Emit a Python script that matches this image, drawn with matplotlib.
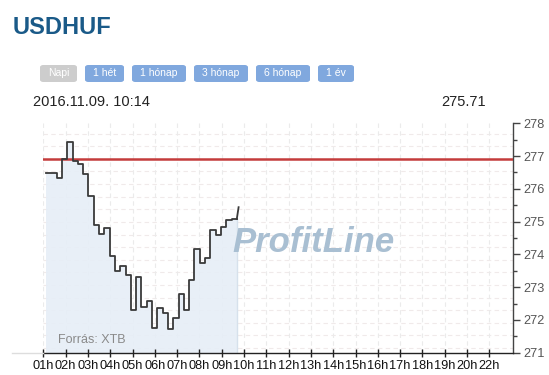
import numpy as np
import matplotlib
matplotlib.use("Agg")
import matplotlib.pyplot as plt
from matplotlib.patches import FancyBboxPatch
from matplotlib.lines import Line2D
from matplotlib.ticker import FixedLocator, MultipleLocator

# ---- data ----
title = "USDHUF"
timestamp = "2016.11.09. 10:14"
last_price = "275.71"
buttons = ["Napi", "1 hét", "1 hónap", "3 hónap", "6 hónap", "1 év"]
hour_labels = ["01h", "02h", "03h", "04h", "05h", "06h", "07h", "08h", "09h", "10h",
               "11h", "12h", "13h", "14h", "15h", "16h", "17h", "18h", "19h", "20h", "22h"]
prices = [276.49, 276.49, 276.34, 276.90, 277.44, 276.85, 276.75, 276.46, 275.79,
          274.90, 274.63, 274.81, 273.95, 273.49, 273.65, 273.36, 272.31, 273.30,
          272.40, 272.58, 271.75, 272.35, 272.21, 271.72, 272.06, 272.79, 272.31,
          273.22, 274.17, 273.74, 273.88, 274.75, 274.59, 274.85, 275.04, 275.08]
last_tick_price = 275.44
reference_level = 276.90
source = "Forrás: XTB"
watermark = "ProfitLine"

# ---- figure ----
W, H = 549, 375
fig = plt.figure(figsize=(W / 100, H / 100), dpi=100)
fig.patch.set_facecolor("white")

def fx(px):
    return px / W

def fy(py):
    return 1 - py / H

ax_l, ax_r = 43.3, 513.3
ax_t, ax_b = 123.3, 352.7
ax = fig.add_axes([fx(ax_l), fy(ax_b), fx(ax_r - ax_l), (ax_b - ax_t) / H])

tick_step = 22.3
xmax = (ax_r - ax_l) / tick_step
ax.set_xlim(0, xmax)
ax.set_ylim(271, 278)

# time grid (15-minute buckets expressed in tick units)
t0 = (46.0 - ax_l) / tick_step
dt = 5.3 / tick_step
n = len(prices)
t = t0 + dt * np.arange(n + 1)
y = prices + [prices[-1]]

# fill
ax.fill_between(t, y, 271, step="post", color="#e6eef7", alpha=0.9, lw=0, zorder=1)
ax.plot([t[-1], t[-1]], [271, y[-1]], color="#d6e1ec", lw=1.0, zorder=1)
# grid
for gy in np.arange(278.07, 271.0, -0.385):
    ax.axhline(gy, color="#f0eaea", lw=0.8, ls=(0, (4, 3)), zorder=0)
for gx in range(len(hour_labels)):
    ax.axvline(gx, color="#ebebeb", lw=0.8, ls=(0, (4, 3)), zorder=0)

# watermark
ax.text(0.575, 0.48, watermark, transform=ax.transAxes, fontsize=25,
        fontweight="bold", fontstyle="italic", family="Liberation Sans",
        color="#a9bfd2", ha="center", va="center", zorder=2)

# price line
ax.plot(t, y, drawstyle="steps-post", color="#3a3a3a", lw=1.3, zorder=4)
ax.plot([t[-1], t[-1] + 1.8 / tick_step], [y[-1], last_tick_price],
        color="#3a3a3a", lw=1.3, zorder=4)

# reference line
ax.axhline(reference_level, color="#c43c3c", lw=1.8, zorder=3)

# source
ax.text((58 - ax_l) / tick_step, 271.38, source, fontsize=9,
        color="#8a8a8a", family="Liberation Sans", ha="left", va="center", zorder=5)

# axes styling
for s in ["top", "left"]:
    ax.spines[s].set_visible(False)
ax.spines["bottom"].set_color("#222222")
ax.spines["bottom"].set_linewidth(1.0)
ax.spines["right"].set_color("#444444")
ax.spines["right"].set_linewidth(1.0)
ax.set_facecolor("none")

ax.xaxis.set_major_locator(FixedLocator(range(len(hour_labels))))
ax.set_xticklabels(hour_labels, family="Liberation Sans", fontsize=9.2, color="#111111")
ax.tick_params(axis="x", direction="inout", length=6, width=1, color="#222222", pad=2)

ax.yaxis.tick_right()
ax.yaxis.set_major_locator(FixedLocator(range(271, 279)))
ax.yaxis.set_minor_locator(MultipleLocator(0.5))
ax.set_yticklabels([str(v) for v in range(271, 279)], family="Liberation Sans",
                   fontsize=9.2, color="#555555")
ax.tick_params(axis="y", which="major", direction="out", length=5, width=1,
               color="#444444", pad=2)
ax.tick_params(axis="y", which="minor", direction="out", length=3, width=1,
               color="#444444")

# left extension of baseline
fig.add_artist(Line2D([fx(12), fx(ax_l)], [fy(ax_b), fy(ax_b)], color="#dddddd", lw=1.0))

# header
fig.text(fx(13), fy(27), title, fontsize=17, fontweight="bold", color="#1a5a88",
         family="Liberation Sans", ha="left", va="center")

btn_x = [(40, 77), (85, 124), (132, 186), (194, 248), (256, 310), (318, 354)]
for i, (lab, (x0, x1)) in enumerate(zip(buttons, btn_x)):
    col = "#cdcdcd" if i == 0 else "#80a8de"
    p = FancyBboxPatch((fx(x0), fy(82)), fx(x1 - x0), (82 - 65) / H,
                       boxstyle="round,pad=0,rounding_size=0.006",
                       transform=fig.transFigure, facecolor=col, edgecolor="none")
    fig.add_artist(p)
    fig.text(fx((x0 + x1) / 2), fy(73.5), lab, fontsize=7.5, color="white",
             family="Liberation Sans", ha="center", va="center")

fig.text(fx(33), fy(102), timestamp, fontsize=10.5, color="#222222",
         family="Liberation Sans", ha="left", va="center")
fig.text(fx(486), fy(102), last_price, fontsize=10.5, color="#222222",
         family="Liberation Sans", ha="right", va="center")

fig.savefig("out.png", dpi=100, facecolor="white")
